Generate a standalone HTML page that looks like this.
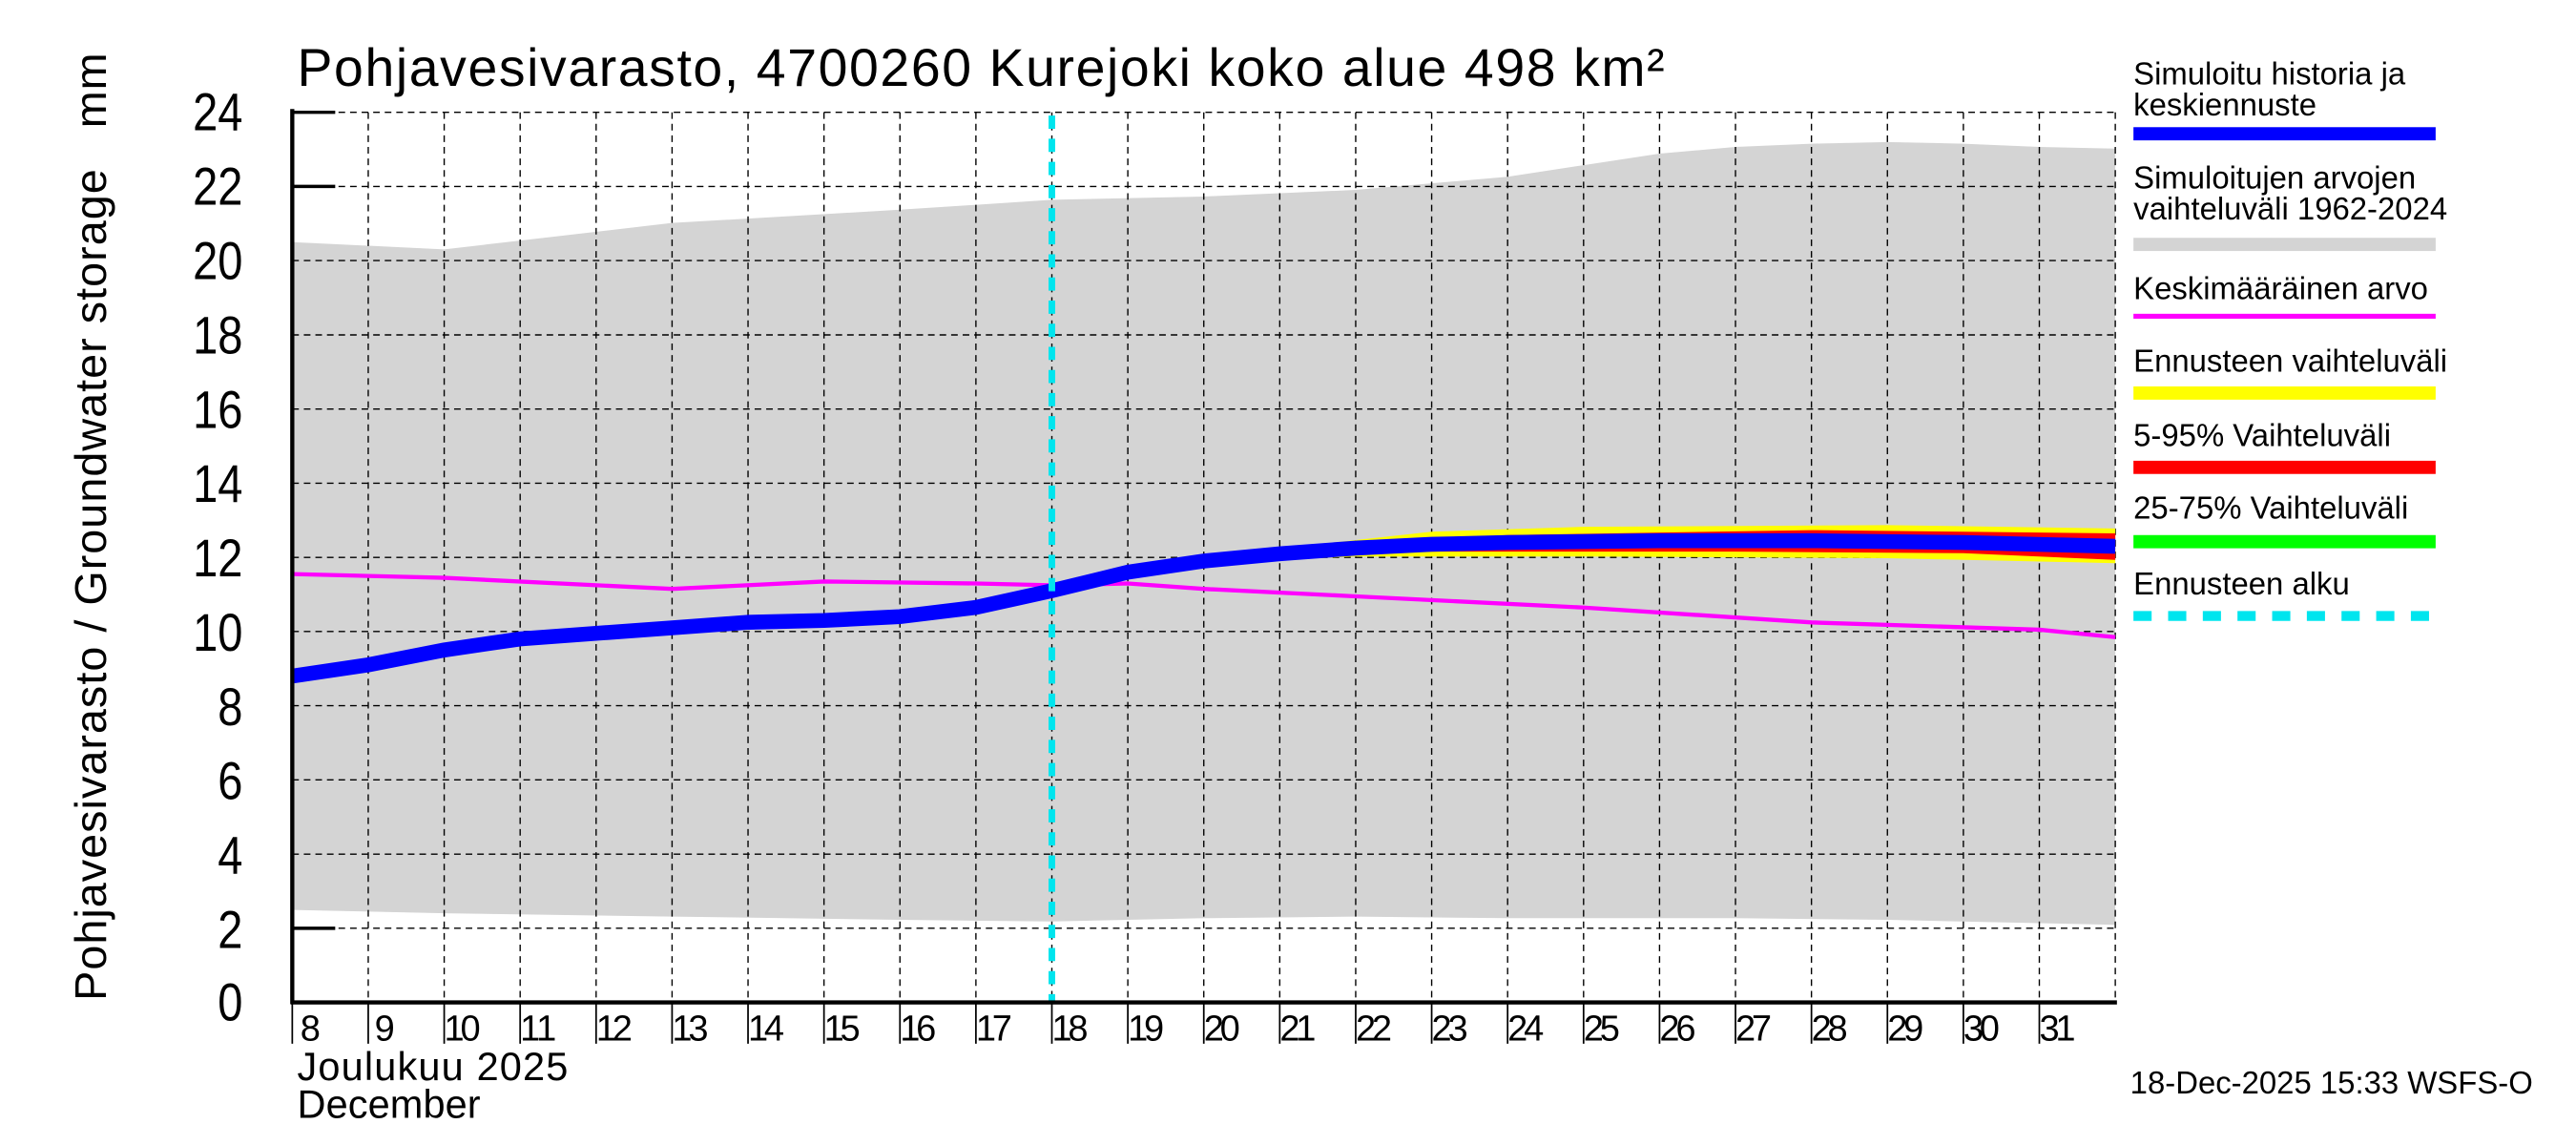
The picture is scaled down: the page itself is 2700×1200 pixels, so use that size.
<!DOCTYPE html>
<html><head><meta charset="utf-8"><style>html,body{margin:0;padding:0;background:#fff}svg{display:block}</style></head>
<body>
<svg width="2700" height="1200" viewBox="0 0 1560 693.33" xmlns="http://www.w3.org/2000/svg" font-family="Liberation Sans, sans-serif">
<rect width="1560" height="694" fill="#fff"/>
<polygon fill="#d4d4d4" points="177,146.6 269,151 407,135 545,127 637,121 729,119 821,115 913,107 959,100 1005,93 1051,89 1097,87 1143,86 1189,87 1235,89 1281,90 1281,560 1235,559 1143,557 1051,556 959,556 913,556 821,555 729,556 637,558 545,557 407,555 269,553 177,551"/>
<g stroke="#000" stroke-width="0.8" stroke-dasharray="4,3">
<line x1="177" y1="68" x2="1281" y2="68"/><line x1="177" y1="112.9" x2="1281" y2="112.9"/><line x1="177" y1="157.8" x2="1281" y2="157.8"/><line x1="177" y1="202.8" x2="1281" y2="202.8"/><line x1="177" y1="247.7" x2="1281" y2="247.7"/><line x1="177" y1="292.6" x2="1281" y2="292.6"/><line x1="177" y1="337.5" x2="1281" y2="337.5"/><line x1="177" y1="382.4" x2="1281" y2="382.4"/><line x1="177" y1="427.3" x2="1281" y2="427.3"/><line x1="177" y1="472.2" x2="1281" y2="472.2"/><line x1="177" y1="517.2" x2="1281" y2="517.2"/><line x1="177" y1="562.1" x2="1281" y2="562.1"/>
<line x1="223" y1="68" x2="223" y2="607"/><line x1="269" y1="68" x2="269" y2="607"/><line x1="315" y1="68" x2="315" y2="607"/><line x1="361" y1="68" x2="361" y2="607"/><line x1="407" y1="68" x2="407" y2="607"/><line x1="453" y1="68" x2="453" y2="607"/><line x1="499" y1="68" x2="499" y2="607"/><line x1="545" y1="68" x2="545" y2="607"/><line x1="591" y1="68" x2="591" y2="607"/><line x1="637" y1="68" x2="637" y2="607"/><line x1="683" y1="68" x2="683" y2="607"/><line x1="729" y1="68" x2="729" y2="607"/><line x1="775" y1="68" x2="775" y2="607"/><line x1="821" y1="68" x2="821" y2="607"/><line x1="867" y1="68" x2="867" y2="607"/><line x1="913" y1="68" x2="913" y2="607"/><line x1="959" y1="68" x2="959" y2="607"/><line x1="1005" y1="68" x2="1005" y2="607"/><line x1="1051" y1="68" x2="1051" y2="607"/><line x1="1097" y1="68" x2="1097" y2="607"/><line x1="1143" y1="68" x2="1143" y2="607"/><line x1="1189" y1="68" x2="1189" y2="607"/><line x1="1235" y1="68" x2="1235" y2="607"/><line x1="1281" y1="68" x2="1281" y2="607"/>
</g>
<polygon fill="#ffff00" points="637,358 729,337 821,327 867,322 959,319 1143,318 1281,320 1281,341 1143,338 959,337 821,337 729,341 637,359"/>
<polygon fill="#ff0000" points="637,358 729,338 821,329 913,324 1097,321 1189,322 1281,323 1281,339 1189,335 1051,334 913,334 821,334 729,340 637,359"/>
<polyline fill="none" stroke="#ff00ff" stroke-width="2.5" points="177,347.6 269,349.9 407,356.6 499,352.1 591,353.3 637,354.4 683,353.3 729,356.6 821,361.1 959,367.9 1097,376.9 1235,381.3 1281,385.8"/>
<polyline fill="none" stroke="#0000ff" stroke-width="9" points="177,409.4 223,402.6 269,393.6 315,386.9 361,383.5 407,380.2 453,376.8 499,375.7 545,373.4 591,367.8 637,357.7 683,346.5 729,339.7 775,335.3 821,331.9 867,329.6 913,328.5 1005,327.4 1097,327.4 1189,328.5 1281,330.8"/>
<line x1="637" y1="70" x2="637" y2="607" stroke="#00e5ee" stroke-width="4" stroke-dasharray="8,6"/>
<g stroke="#000" stroke-width="2.5">
<line x1="177" y1="66" x2="177" y2="608"/><line x1="176" y1="607" x2="1282" y2="607"/>
</g>
<g stroke="#000" stroke-width="2">
<line x1="177" y1="68" x2="203" y2="68"/><line x1="177" y1="112.9" x2="203" y2="112.9"/><line x1="177" y1="562.1" x2="203" y2="562.1"/>
</g>
<g stroke="#000" stroke-width="1">
<line x1="177" y1="607" x2="177" y2="632"/><line x1="223" y1="607" x2="223" y2="632"/><line x1="269" y1="607" x2="269" y2="632"/><line x1="315" y1="607" x2="315" y2="632"/><line x1="361" y1="607" x2="361" y2="632"/><line x1="407" y1="607" x2="407" y2="632"/><line x1="453" y1="607" x2="453" y2="632"/><line x1="499" y1="607" x2="499" y2="632"/><line x1="545" y1="607" x2="545" y2="632"/><line x1="591" y1="607" x2="591" y2="632"/><line x1="637" y1="607" x2="637" y2="632"/><line x1="683" y1="607" x2="683" y2="632"/><line x1="729" y1="607" x2="729" y2="632"/><line x1="775" y1="607" x2="775" y2="632"/><line x1="821" y1="607" x2="821" y2="632"/><line x1="867" y1="607" x2="867" y2="632"/><line x1="913" y1="607" x2="913" y2="632"/><line x1="959" y1="607" x2="959" y2="632"/><line x1="1005" y1="607" x2="1005" y2="632"/><line x1="1051" y1="607" x2="1051" y2="632"/><line x1="1097" y1="607" x2="1097" y2="632"/><line x1="1143" y1="607" x2="1143" y2="632"/><line x1="1189" y1="607" x2="1189" y2="632"/><line x1="1235" y1="607" x2="1235" y2="632"/>
</g>
<g font-size="32" text-anchor="end" fill="#000" transform="translate(147,0) scale(0.85,1) translate(-147,0)">
<text x="147" y="79">24</text><text x="147" y="124">22</text><text x="147" y="169">20</text><text x="147" y="214">18</text><text x="147" y="259">16</text><text x="147" y="304">14</text><text x="147" y="349">12</text><text x="147" y="394">10</text><text x="147" y="439">8</text><text x="147" y="484">6</text><text x="147" y="529">4</text><text x="147" y="574">2</text><text x="147" y="618">0</text>
</g>
<g font-size="22" fill="#000" text-anchor="middle">
<text x="188" y="630">8</text><text x="233" y="630">9</text><text x="280" y="630" textLength="22">10</text><text x="326" y="630" textLength="22">11</text><text x="372" y="630" textLength="22">12</text><text x="418" y="630" textLength="22">13</text><text x="464" y="630" textLength="22">14</text><text x="510" y="630" textLength="22">15</text><text x="556" y="630" textLength="22">16</text><text x="602" y="630" textLength="22">17</text><text x="648" y="630" textLength="22">18</text><text x="694" y="630" textLength="22">19</text><text x="740" y="630" textLength="22">20</text><text x="786" y="630" textLength="22">21</text><text x="832" y="630" textLength="22">22</text><text x="878" y="630" textLength="22">23</text><text x="924" y="630" textLength="22">24</text><text x="970" y="630" textLength="22">25</text><text x="1016" y="630" textLength="22">26</text><text x="1062" y="630" textLength="22">27</text><text x="1108" y="630" textLength="22">28</text><text x="1154" y="630" textLength="22">29</text><text x="1200" y="630" textLength="22">30</text><text x="1246" y="630" textLength="22">31</text>
</g>
<text x="180" y="654" font-size="24" textLength="164">Joulukuu  2025</text>
<text x="180" y="677" font-size="24" textLength="111">December</text>
<text x="180" y="52" font-size="32" textLength="828">Pohjavesivarasto, 4700260 Kurejoki koko alue 498 km²</text>
<text transform="translate(64,606) rotate(-90)" font-size="27" textLength="574" xml:space="preserve">Pohjavesivarasto / Groundwater storage   mm</text>
<g font-size="19" fill="#000">
<text x="1292" y="51">Simuloitu historia ja</text><text x="1292" y="70">keskiennuste</text>
<text x="1292" y="114">Simuloitujen arvojen</text><text x="1292" y="133">vaihteluväli 1962-2024</text>
<text x="1292" y="181">Keskimääräinen arvo</text>
<text x="1292" y="225">Ennusteen vaihteluväli</text>
<text x="1292" y="270">5-95% Vaihteluväli</text>
<text x="1292" y="314">25-75% Vaihteluväli</text>
<text x="1292" y="360">Ennusteen alku</text>
<text x="1290" y="662">18-Dec-2025 15:33 WSFS-O</text>
</g>
<rect x="1292" y="77" width="183" height="8" fill="#0000ff"/>
<rect x="1292" y="144" width="183" height="8" fill="#d4d4d4"/>
<rect x="1292" y="190" width="183" height="3" fill="#ff00ff"/>
<rect x="1292" y="234" width="183" height="8" fill="#ffff00"/>
<rect x="1292" y="279" width="183" height="8" fill="#ff0000"/>
<rect x="1292" y="324" width="183" height="8" fill="#00ff00"/>
<line x1="1292" y1="373" x2="1475" y2="373" stroke="#00e5ee" stroke-width="6" stroke-dasharray="11,10"/>
</svg>
</body></html>
